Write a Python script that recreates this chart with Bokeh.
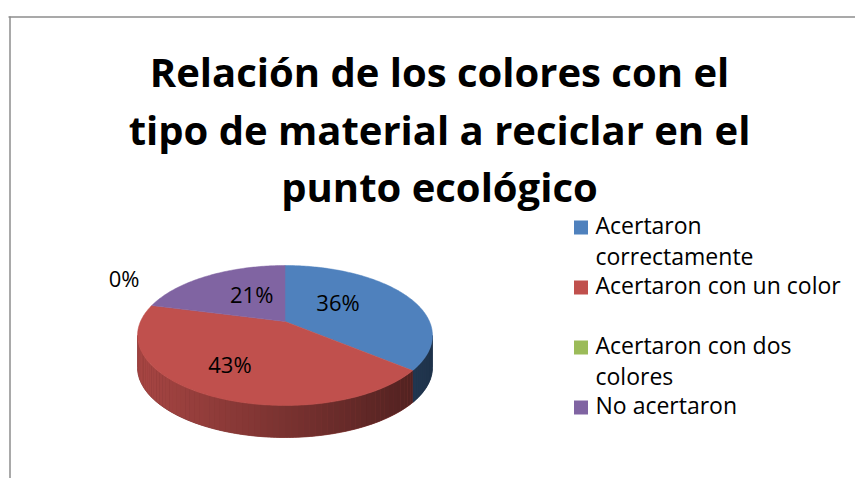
import math
from bokeh.plotting import figure
from bokeh.models import Range1d
from bokeh.core.properties import value
from bokeh.embed import file_html
from bokeh.resources import INLINE

# ---------------- data ----------------
title_lines = ["Relación de los colores con el",
               "tipo de material a reciclar en el",
               "punto ecológico"]
categories = ["Acertaron correctamente", "Acertaron con un color",
              "Acertaron con dos colores", "No acertaron"]
legend_lines = [["Acertaron", "correctamente"],
                ["Acertaron con un color", ""],
                ["Acertaron con dos", "colores"],
                ["No acertaron"]]
percentages = [36, 43, 0, 21]
colors = ["#4F81BD", "#C0504D", "#9BBB59", "#8064A2"]

# ---------------- layout (page pixels) ----------------
W, H = 855, 478
CX, CY = 284.5, 321.0      # projected pie centre
A, B, K = 144.5, 67.2, 0.2  # horizontal, vertical radius, perspective
DEPTH = 32.0
FONT = "Open Sans"
label_radius = [0.42, 0.73, 1.22, 0.40]

p = figure(width=W, height=H, x_range=Range1d(0, W), y_range=Range1d(H, 0),
           output_backend="svg", toolbar_location=None, min_border=0,
           x_axis_location=None, y_axis_location=None)
p.grid.visible = False
p.outline_line_color = None
p.background_fill_color = "white"
p.border_fill_color = "white"


def proj(phi_deg, r=1.0):
    ph = math.radians(phi_deg)
    u, v = r * math.sin(ph), r * math.cos(ph)
    w = 1 + K * v
    return CX + A * u / w, CY - B * v / w


def hex2rgb(h):
    h = h.lstrip("#")
    return [int(h[i:i + 2], 16) for i in (0, 2, 4)]


def shade(h, f):
    r, g, b = hex2rgb(h)
    return "#%02x%02x%02x" % (int(r * f), int(g * f), int(b * f))


# slice angles (clockwise from 12 o'clock)
total = float(sum(percentages))
starts, ends = [], []
acc = 0.0
for pc in percentages:
    starts.append(acc / total * 360.0)
    acc += pc
    ends.append(acc / total * 360.0)

# ---------------- side wall ----------------
phi_r = math.degrees(math.acos(-K))
phi_l = 360.0 - phi_r
x_min, _ = proj(phi_l)
x_max, _ = proj(phi_r)


def side_color(i, x):
    t = (x - x_min) / (x_max - x_min)
    return shade(colors[i], 0.875 - 0.48 * t)


# base wall pieces (one per slice) to hide seams
bxs, bys, bcol = [], [], []
for i, pc in enumerate(percentages):
    if pc <= 0:
        continue
    a0, a1 = max(starts[i], phi_r), min(ends[i], phi_l)
    if a1 <= a0:
        continue
    steps = max(2, int(a1 - a0))
    top = [proj(a0 + (a1 - a0) * j / steps) for j in range(steps + 1)]
    xs = [q[0] for q in top] + [q[0] for q in reversed(top)]
    ys = [q[1] for q in top] + [q[1] + DEPTH for q in reversed(top)]
    bxs.append(xs)
    bys.append(ys)
    bcol.append(side_color(i, sum(xs) / len(xs)))
p.patches(xs=bxs, ys=bys, fill_color=bcol, line_color=bcol, line_width=0.8)

breaks = set()
n = 80
for i in range(n + 1):
    breaks.add(phi_r + (phi_l - phi_r) * i / n)
for s in starts + ends:
    if phi_r < s < phi_l:
        breaks.add(s)
breaks = sorted(breaks)
sxs, sys_, scol = [], [], []
for a0, a1 in zip(breaks[:-1], breaks[1:]):
    mid = 0.5 * (a0 + a1)
    idx = next(i for i in range(len(percentages)) if starts[i] <= mid < ends[i] and percentages[i] > 0)
    x0, y0 = proj(a0)
    x1, y1 = proj(a1)
    c = side_color(idx, 0.5 * (x0 + x1))
    sxs.append([x0, x1, x1, x0])
    sys_.append([y0, y1, y1 + DEPTH, y0 + DEPTH])
    scol.append(c)
p.patches(xs=sxs, ys=sys_, fill_color=scol, line_color=None)

# ---------------- top face ----------------
txs, tys, tcol = [], [], []
for i, pc in enumerate(percentages):
    if pc <= 0:
        continue
    steps = max(2, int((ends[i] - starts[i]) / 1.0))
    xs, ys = [CX], [CY]
    for j in range(steps + 1):
        x, y = proj(starts[i] + (ends[i] - starts[i]) * j / steps)
        xs.append(x)
        ys.append(y)
    txs.append(xs)
    tys.append(ys)
    tcol.append(colors[i])
p.patches(xs=txs, ys=tys, fill_color=tcol, line_color=tcol, line_width=0.5)

# ---------------- data labels ----------------
lx, ly, lt = [], [], []
for i, pc in enumerate(percentages):
    mid = 0.5 * (starts[i] + ends[i])
    x, y = proj(mid, label_radius[i])
    if label_radius[i] > 1:
        y -= 16
    lx.append(x)
    ly.append(y - 8)
    lt.append("%d%%" % pc)
p.text(x=lx, y=ly, text=lt, text_font=value(FONT), text_font_size="22px",
       text_align="center", text_baseline="middle", text_color="black")

# ---------------- title ----------------
p.text(x=[439] * len(title_lines), y=[71 + 57.5 * i for i in range(len(title_lines))],
       text=title_lines, text_font=value(FONT), text_font_style="bold",
       text_font_size="40px", text_align="center", text_baseline="alphabetic",
       text_color="black")

# ---------------- legend ----------------
mx, my, mc = [], [], []
gx, gy, gt = [], [], []
ypos = 227.0
for i, lines in enumerate(legend_lines):
    mx.append(580.5)
    my.append(ypos)
    mc.append(colors[i])
    for j, ln in enumerate(lines):
        if ln:
            gx.append(595)
            gy.append(ypos - 3 + 31 * j)
            gt.append(ln)
    ypos += 60
p.rect(x=mx, y=my, width=14, height=14, fill_color=mc, line_color=None)
p.text(x=gx, y=gy, text=gt, text_font=value(FONT), text_font_size="23px",
       text_align="left", text_baseline="middle", text_color="black")

# ---------------- chart frame (partial border) ----------------
p.segment(x0=[8, 9.5], y0=[16.5, 16], x1=[W, 9.5], y1=[16.5, H],
          line_color="#8c8c8c", line_width=1.5)

open("out.html", "w").write(file_html(p, INLINE))
